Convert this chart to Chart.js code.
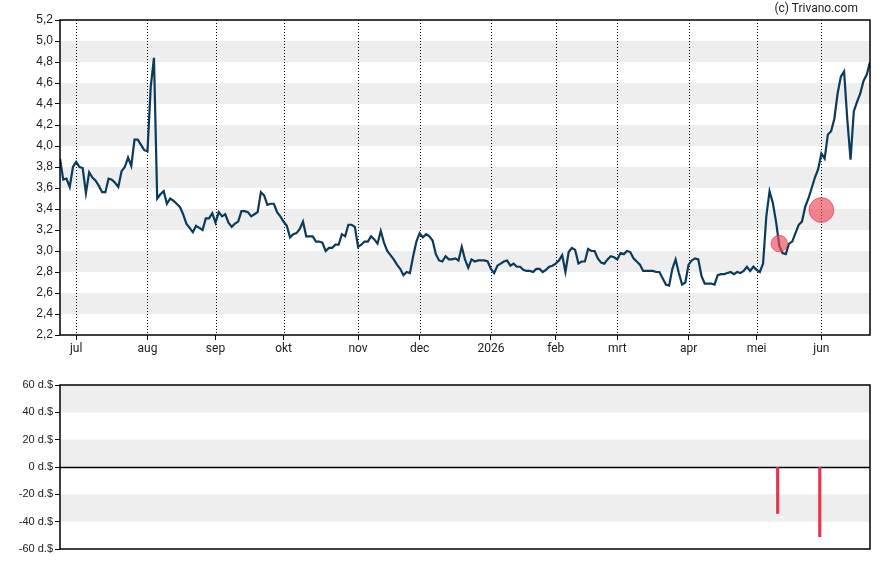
<!DOCTYPE html>
<html>
<head>
<meta charset="utf-8">
<script src="https://cdn.jsdelivr.net/npm/chart.js@4.4.1/dist/chart.umd.min.js"></script>
<style>
  html, body { margin: 0; padding: 0; background: #fff; }
  #wrap { position: relative; width: 888px; height: 565px; }
  #priceBox { position: absolute; left: 0; top: 0; }
  #flowBox { position: absolute; left: 0; top: 370px; }
  #credit { position: absolute; right: 30px; top: 1px; font: 12px Roboto, Arial, sans-serif; color: #222; }
</style>
</head>
<body>
<div id="wrap">
  <div id="priceBox"><canvas id="priceChart" width="888" height="360"></canvas></div>
  <div id="flowBox"><canvas id="flowChart" width="888" height="195"></canvas></div>
  <div id="credit">(c) Trivano.com</div>
</div>
<script>
(() => {
  'use strict';

  // slotkoersen per handelsdag (index 0 = eind juni 2025)
  const CLOSE = [
    3.88, 3.68, 3.69, 3.61, 3.80, 3.85, 3.80, 3.79, 3.55, 3.75,
    3.70, 3.67, 3.62, 3.56, 3.56, 3.69, 3.68, 3.65, 3.61, 3.76,
    3.80, 3.89, 3.81, 4.06, 4.06, 4.01, 3.96, 3.95, 4.56, 4.84,
    3.50, 3.54, 3.57, 3.45, 3.50, 3.48, 3.45, 3.42, 3.35, 3.26,
    3.22, 3.18, 3.24, 3.22, 3.20, 3.31, 3.31, 3.36, 3.27, 3.37,
    3.33, 3.35, 3.27, 3.23, 3.26, 3.28, 3.38, 3.38, 3.37, 3.33,
    3.35, 3.37, 3.56, 3.53, 3.44, 3.45, 3.45, 3.37, 3.33, 3.28,
    3.24, 3.13, 3.16, 3.17, 3.21, 3.28, 3.14, 3.14, 3.14, 3.09,
    3.09, 3.08, 3.00, 3.03, 3.03, 3.06, 3.06, 3.16, 3.14, 3.25,
    3.25, 3.23, 3.04, 3.06, 3.09, 3.09, 3.14, 3.11, 3.07, 3.19,
    3.08, 3.00, 2.96, 2.92, 2.87, 2.83, 2.77, 2.80, 2.79, 2.95,
    3.09, 3.17, 3.13, 3.16, 3.14, 3.10, 2.97, 2.91, 2.90, 2.95,
    2.92, 2.92, 2.93, 2.91, 3.04, 2.92, 2.84, 2.92, 2.90, 2.91,
    2.91, 2.91, 2.90, 2.83, 2.79, 2.86, 2.88, 2.90, 2.91, 2.86,
    2.88, 2.85, 2.85, 2.82, 2.81, 2.81, 2.80, 2.83, 2.83, 2.80,
    2.82, 2.85, 2.86, 2.88, 2.91, 2.96, 2.80, 2.99, 3.03, 3.01,
    2.88, 2.90, 2.90, 3.02, 3.00, 3.00, 2.93, 2.89, 2.88, 2.92,
    2.95, 2.94, 2.92, 2.98, 2.97, 3.00, 2.99, 2.93, 2.90, 2.87,
    2.81, 2.81, 2.81, 2.81, 2.80, 2.80, 2.74, 2.68, 2.67, 2.83,
    2.92, 2.79, 2.68, 2.70, 2.87, 2.91, 2.93, 2.92, 2.76, 2.69,
    2.69, 2.69, 2.68, 2.77, 2.78, 2.78, 2.79, 2.80, 2.78, 2.80,
    2.79, 2.81, 2.85, 2.81, 2.85, 2.82, 2.80, 2.88, 3.33, 3.57,
    3.46, 3.28, 3.05, 2.98, 2.97, 3.07, 3.09, 3.17, 3.25, 3.28,
    3.42, 3.50, 3.60, 3.70, 3.78, 3.93, 3.88, 4.11, 4.14, 4.26,
    4.50, 4.66, 4.71, 4.25, 3.87, 4.33, 4.42, 4.50, 4.62, 4.68,
    4.80
  ];

  // maandgrenzen (index van eerste handelsdag) en labels
  const MONTH_IDX = [5, 27, 48, 69, 92, 111, 133, 153, 172, 194, 215, 235];
  const MONTH_LABELS = ['jul', 'aug', 'sep', 'okt', 'nov', 'dec', '2026', 'feb', 'mrt', 'apr', 'mei', 'jun'];

  const PRICE_TICKS = [2.2, 2.4, 2.6, 2.8, 3.0, 3.2, 3.4, 3.6, 3.8, 4.0, 4.2, 4.4, 4.6, 4.8, 5.0, 5.2];
  const FLOW_TICKS = [-60, -40, -20, 0, 20, 40, 60];

  // insider-transacties: dag, koers, bedrag (d.$)
  const EVENT_IDX = [222, 235];
  const EVENT_PRICE = [3.07, 3.39];
  const EVENT_AMOUNT = [-34, -51];

  const LAST_IDX = CLOSE.length - 1;
  const BAND = '#eeeeee';
  const AXIS_FONT = { family: 'Arial, "Liberation Sans", sans-serif', size: 12 };

  const chartDecor = {
    id: 'chartDecor',
    beforeDatasetsDraw(chart, args, opts) {
      const { ctx, chartArea: a, scales } = chart;
      const y = scales.y;
      const ticks = opts.ticks;
      ctx.save();
      ctx.fillStyle = BAND;
      for (let k = 1; k < ticks.length - 1; k += 2) {
        const top = y.getPixelForValue(ticks[k + 1]);
        const bot = y.getPixelForValue(ticks[k]);
        ctx.fillRect(a.left, top, a.right - a.left, bot - top);
      }
      if (opts.monthLines) {
        ctx.strokeStyle = '#000';
        ctx.lineWidth = 1;
        ctx.setLineDash([1, 2]);
        MONTH_IDX.forEach(m => {
          const x = Math.round(scales.x.getPixelForValue(m)) + 0.5;
          ctx.beginPath();
          ctx.moveTo(x, a.top);
          ctx.lineTo(x, a.bottom);
          ctx.stroke();
        });
        ctx.setLineDash([]);
      }
      if (opts.zeroLine) {
        const y0 = Math.round(y.getPixelForValue(0)) + 0.5;
        ctx.strokeStyle = '#000';
        ctx.lineWidth = 1.5;
        ctx.beginPath();
        ctx.moveTo(a.left, y0);
        ctx.lineTo(a.right, y0);
        ctx.stroke();
      }
      ctx.restore();
    },
    afterDraw(chart) {
      const { ctx, chartArea: a } = chart;
      ctx.save();
      ctx.strokeStyle = '#000';
      ctx.lineWidth = 1.5;
      ctx.strokeRect(a.left, a.top, a.right - a.left, a.bottom - a.top);
      ctx.restore();
    }
  };

  new Chart(document.getElementById('priceChart'), {
    data: {
      datasets: [
        {
          type: 'scatter',
          data: EVENT_IDX.map((x, k) => ({ x, y: EVENT_PRICE[k] })),
          pointRadius: c => Math.abs(EVENT_AMOUNT[c.dataIndex]) / 4.1,
          backgroundColor: 'rgba(238, 72, 88, 0.65)',
          borderColor: 'rgba(225, 50, 70, 0.6)',
          borderWidth: 1,
          order: 0
        },
        {
          type: 'line',
          data: CLOSE.map((v, i) => ({ x: i, y: v })),
          borderColor: '#0c3a5a',
          borderWidth: 2.2,
          pointRadius: 0,
          tension: 0,
          order: 1
        }
      ]
    },
    options: {
      responsive: false,
      animation: false,
      events: [],
      layout: { padding: { top: 20, right: 18, left: 0, bottom: 0 } },
      plugins: {
        legend: { display: false },
        tooltip: { enabled: false },
        chartDecor: { ticks: PRICE_TICKS, monthLines: true }
      },
      scales: {
        x: {
          type: 'linear',
          min: 0,
          max: LAST_IDX,
          afterBuildTicks: s => { s.ticks = MONTH_IDX.map(v => ({ value: v })); },
          afterFit: s => { s.height = 25; },
          ticks: {
            autoSkip: false,
            maxRotation: 0,
            padding: 2,
            color: '#222',
            font: { family: 'Roboto, Arial, sans-serif', size: 12 },
            callback: (v, i) => MONTH_LABELS[i]
          },
          grid: { drawOnChartArea: false, tickLength: 5, tickColor: '#000' },
          border: { display: false }
        },
        y: {
          min: 2.2,
          max: 5.2,
          afterBuildTicks: s => { s.ticks = PRICE_TICKS.map(v => ({ value: v })); },
          afterFit: s => { s.width = 60; },
          ticks: {
            padding: 2,
            color: '#222',
            font: AXIS_FONT,
            callback: v => v.toFixed(1).replace('.', ',')
          },
          grid: { drawOnChartArea: false, tickLength: 5, tickColor: '#000' },
          border: { display: false }
        }
      }
    },
    plugins: [chartDecor]
  });

  new Chart(document.getElementById('flowChart'), {
    type: 'bar',
    data: {
      datasets: [{
        data: EVENT_IDX.map((x, k) => ({ x: x - 0.5, y: EVENT_AMOUNT[k] })),
        backgroundColor: '#e8354c',
        barThickness: 2.5,
        grouped: false
      }]
    },
    options: {
      responsive: false,
      animation: false,
      events: [],
      layout: { padding: { top: 15, right: 18, left: 0, bottom: 16 } },
      plugins: {
        legend: { display: false },
        tooltip: { enabled: false },
        chartDecor: { ticks: FLOW_TICKS, zeroLine: true }
      },
      scales: {
        x: { type: 'linear', min: 0, max: LAST_IDX, offset: false, display: false },
        y: {
          min: -60,
          max: 60,
          afterBuildTicks: s => { s.ticks = FLOW_TICKS.map(v => ({ value: v })); },
          afterFit: s => { s.width = 60; },
          ticks: {
            padding: 2,
            color: '#222',
            font: { family: 'Arial, "Liberation Sans", sans-serif', size: 11 },
            callback: v => v + ' d.$'
          },
          grid: { drawOnChartArea: false, tickLength: 5, tickColor: '#000' },
          border: { display: false }
        }
      }
    },
    plugins: [chartDecor]
  });
})();
</script>
</body>
</html>
